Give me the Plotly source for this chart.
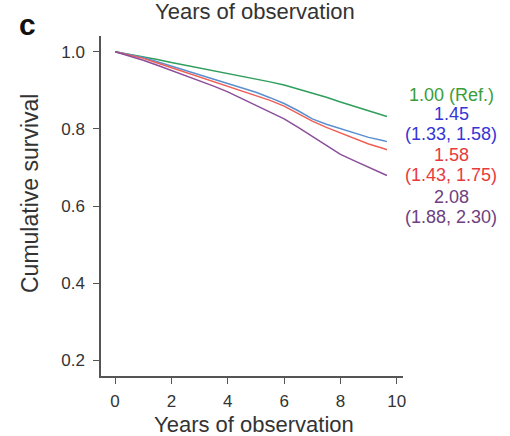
import plotly.graph_objects as go

years = [0, 0.5, 1, 1.5, 2, 2.5, 3, 3.5, 4, 4.5, 5, 5.5, 6, 6.5, 7, 7.5, 8, 8.5, 9, 9.5, 9.65]
surv_ref = [1.0, 0.994, 0.988, 0.980, 0.972, 0.965, 0.958, 0.951, 0.944, 0.937, 0.929,
            0.922, 0.914, 0.904, 0.893, 0.882, 0.870, 0.859, 0.848, 0.836, 0.832]
surv_blue = [1.0, 0.993, 0.985, 0.974, 0.963, 0.952, 0.941, 0.930, 0.919, 0.907, 0.895,
             0.881, 0.866, 0.847, 0.826, 0.812, 0.800, 0.789, 0.778, 0.770, 0.767]
surv_red = [1.0, 0.992, 0.983, 0.971, 0.959, 0.947, 0.935, 0.923, 0.912, 0.900, 0.888,
            0.874, 0.859, 0.840, 0.820, 0.804, 0.789, 0.775, 0.761, 0.750, 0.746]
surv_purple = [1.0, 0.990, 0.978, 0.965, 0.952, 0.939, 0.925, 0.911, 0.896, 0.879, 0.861,
               0.844, 0.826, 0.804, 0.781, 0.757, 0.734, 0.717, 0.700, 0.684, 0.679]

hr_labels = ["1.00 (Ref.)", "1.45", "(1.33, 1.58)", "1.58", "(1.43, 1.75)", "2.08", "(1.88, 2.30)"]
label_colors = ["#3a9e3a", "#3535d6", "#3535d6", "#e83a3c", "#e83a3c", "#6e4080", "#6e4080"]
label_ypix = [95, 114, 134, 155, 175, 197, 217]

x_ticks = [0, 2, 4, 6, 8, 10]
y_ticks = [0.2, 0.4, 0.6, 0.8, 1.0]

series = [
    (surv_ref, "#2f9e5c"),
    (surv_blue, "#5a8fcf"),
    (surv_red, "#ef5f56"),
    (surv_purple, "#8a4e9b"),
]

fig = go.Figure()
for vals, col in series:
    fig.add_trace(go.Scatter(x=years, y=vals, mode="lines",
                             line=dict(color=col, width=1.5), showlegend=False))

FONT = "Liberation Sans, Arial, sans-serif"
fig.update_layout(
    width=510, height=436,
    margin=dict(l=101, r=107, t=36, b=60),
    paper_bgcolor="white", plot_bgcolor="white",
    font=dict(family=FONT, color="#333333", size=17),
    showlegend=False,
)
fig.update_xaxes(range=[-0.5, 10.22], tickvals=x_ticks, ticks="outside", ticklen=6,
                 tickcolor="#555555", showline=True, linecolor="#555555", linewidth=1.5,
                 showgrid=False, zeroline=False, tickfont=dict(size=17),
                 ticklabelstandoff=3)
fig.update_yaxes(range=[0.159, 1.041], tickvals=y_ticks, tickformat=".1f", ticks="outside",
                 ticklen=6, tickcolor="#555555", showline=True, linecolor="#555555",
                 linewidth=1.5, showgrid=False, zeroline=False, tickfont=dict(size=17),
                 ticklabelstandoff=5)

annotations = []
for txt, col, yp in zip(hr_labels, label_colors, label_ypix):
    annotations.append(dict(text=txt, xref="paper", yref="paper",
                            x=(451 - 101) / 302, y=(376 - yp) / 340,
                            xanchor="center", yanchor="middle", showarrow=False,
                            font=dict(size=18, color=col, family=FONT)))
annotations.append(dict(text="Years of observation", xref="paper", yref="paper",
                        x=(255 - 101) / 302, y=(376 - 11) / 340, xanchor="center",
                        yanchor="middle", showarrow=False,
                        font=dict(size=22, color="#333333", family=FONT)))
annotations.append(dict(text="Years of observation", xref="paper", yref="paper",
                        x=(254 - 101) / 302, y=(376 - 424) / 340, xanchor="center",
                        yanchor="middle", showarrow=False,
                        font=dict(size=22, color="#333333", family=FONT)))
annotations.append(dict(text="Cumulative survival", xref="paper", yref="paper",
                        x=(30 - 101) / 302, y=(376 - 194) / 340, xanchor="center",
                        yanchor="middle", showarrow=False, textangle=-90,
                        font=dict(size=23, color="#333333", family=FONT)))
annotations.append(dict(text="<b>c</b>", xref="paper", yref="paper",
                        x=(27 - 101) / 302, y=(376 - 25) / 340, xanchor="center",
                        yanchor="middle", showarrow=False,
                        font=dict(size=30, color="#111111", family=FONT)))
fig.update_layout(annotations=annotations)

fig.write_html("out.html")
